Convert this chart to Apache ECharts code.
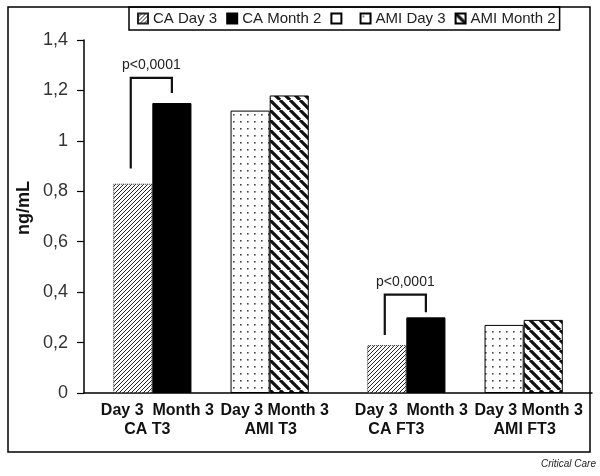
<!DOCTYPE html>
<html>
<head>
<meta charset="utf-8">
<script src="https://cdn.jsdelivr.net/npm/echarts@6/dist/echarts.min.js"></script>
<style>
html,body{margin:0;padding:0;background:#fff;}
#chart{width:600px;height:476px;}
</style>
</head>
<body>
<div id="chart"></div>
<script>
// ---- data ----
const categories = ['T3', 'FT3'];
const seriesNames = ['CA Day 3', 'CA Month 2', ' ', 'AMI Day 3', 'AMI Month 2'];
const caDay3 = [0.83, 0.19];
const caMonth2 = [1.15, 0.30];
const blankSeries = [null, null];
const amiDay3 = [1.12, 0.27];
const amiMonth2 = [1.18, 0.29];
const yMin = 0, yMax = 1.4, yStep = 0.2;
const yAxisName = 'ng/mL';
const groupNames = ['CA T3', 'AMI T3', 'CA FT3', 'AMI FT3'];
const timeLabels = ['Day 3  Month 3', 'Day 3 Month 3', 'Day 3  Month 3', 'Day 3 Month 3'];
// groups: [category index, first series index of pair]
const groups = [[0, 0], [0, 3], [1, 0], [1, 3]];
// significance brackets (CA pairs): text, top value, left end value, right end value
const pTexts = ['p<0,0001', 'p<0,0001'];
const bracketTop = [1.25, 0.39];
const bracketLeftEnd = [0.89, 0.23];
const bracketRightEnd = [1.19, 0.32];
const bracketCats = [0, 1];
const sourceText = 'Critical Care';

// ---- patterns ----
function hatch(size, dir, lw, color) {
  const c = document.createElement('canvas');
  c.width = c.height = size;
  const g = c.getContext('2d');
  g.fillStyle = '#fff'; g.fillRect(0, 0, size, size);
  g.strokeStyle = color; g.lineWidth = lw; g.beginPath();
  for (let k = -1; k <= 1; k++) {
    if (dir === '/') { g.moveTo(k * size, size); g.lineTo(k * size + size, 0); }
    else { g.moveTo(k * size, 0); g.lineTo(k * size + size, size); }
  }
  g.stroke();
  return c;
}
function dots(size, r, color) {
  const c = document.createElement('canvas');
  c.width = c.height = size;
  const g = c.getContext('2d');
  g.fillStyle = '#fff'; g.fillRect(0, 0, size, size);
  g.fillStyle = color; g.fillRect(2, 2, r, r);
  return c;
}
const patCA3 = { image: hatch(4, '/', 1, '#222'), repeat: 'repeat' };
const patAMIm = { image: hatch(10, '\\', 3.2, '#111'), repeat: 'repeat' };
const patAMI3 = { image: dots(7, 1.6, '#444'), repeat: 'repeat' };

const FONT = '"Liberation Sans", Arial, sans-serif';
const chart = echarts.init(document.getElementById('chart'), null, { renderer: 'canvas' });

const seriesData = [caDay3, caMonth2, blankSeries, amiDay3, amiMonth2];
const styles = [
  { color: patCA3, borderColor: '#222', borderWidth: 1, borderType: 'dotted' },
  { color: '#000', borderColor: '#000', borderWidth: 1 },
  { color: '#fff', borderColor: '#000', borderWidth: 1 },
  { color: patAMI3, borderColor: '#000', borderWidth: 1 },
  { color: patAMIm, borderColor: '#000', borderWidth: 1 }
];

const option = {
  animation: false,
  backgroundColor: '#fff',
  textStyle: { fontFamily: FONT },
  grid: { left: 84, right: 8, top: 40, bottom: 83, containLabel: false },
  legend: {
    left: 129, top: 7,
    icon: 'rect',
    itemWidth: 10, itemHeight: 10, itemGap: 9,
    padding: [4, 4, 4, 8],
    borderColor: '#000', borderWidth: 1.5,
    textStyle: { fontSize: 15, color: '#222', fontFamily: FONT },
    data: seriesNames
  },
  xAxis: {
    type: 'category', data: categories,
    axisLine: { lineStyle: { color: '#000', width: 1.5 } },
    axisTick: { show: false },
    axisLabel: { show: false }
  },
  yAxis: {
    type: 'value', min: yMin, max: yMax, interval: yStep,
    axisLine: { show: true, lineStyle: { color: '#000', width: 1.5 } },
    axisTick: { show: true, length: 7, lineStyle: { color: '#000', width: 1.2 } },
    splitLine: { show: false },
    axisLabel: {
      margin: 16, fontSize: 18, color: '#333', fontFamily: FONT,
      formatter: v => String(Math.round(v * 10) / 10).replace('.', ',')
    }
  },
  series: seriesNames.map((n, i) => ({
    name: n, type: 'bar', data: seriesData[i],
    barGap: '0%', barCategoryGap: '23%',
    itemStyle: styles[i]
  }))
};
chart.setOption(option);

// ---- annotations derived from layout ----
const model = chart.getModel();
function lay(s, c) { return model.getSeriesByIndex(s).getData().getItemLayout(c); }
function py(v) { return chart.convertToPixel({ yAxisIndex: 0 }, v); }
const baseY = py(0);
const gfx = [];
// frame
gfx.push({ type: 'rect', shape: { x: 8, y: 7, width: 582, height: 445 }, style: { fill: null, stroke: '#000', lineWidth: 1.5 }, z: 0, silent: true });
// y axis name
gfx.push({ type: 'text', x: 24, y: 208, rotation: Math.PI / 2,
  style: { text: yAxisName, font: 'bold 18px ' + FONT, fill: '#111', align: 'center', verticalAlign: 'middle' } });
const row2Shift = [-5, 1, -10, 1];
groups.forEach((gp, i) => {
  const L = lay(gp[1], gp[0]);
  const cx = L.x + L.width;
  gfx.push({ type: 'text', x: cx + 5, y: baseY + 18,
    style: { text: timeLabels[i], font: 'bold 16px ' + FONT, fill: '#111', align: 'center', verticalAlign: 'middle' } });
  gfx.push({ type: 'text', x: cx + row2Shift[i], y: baseY + 37,
    style: { text: groupNames[i], font: 'bold 16px ' + FONT, fill: '#111', align: 'center', verticalAlign: 'middle' } });
});
bracketCats.forEach((c, i) => {
  const a = lay(0, c), b = lay(1, c);
  const xl = a.x + a.width / 2 - 2, xr = b.x + b.width / 2;
  const yt = py(bracketTop[i]);
  gfx.push({ type: 'polyline', shape: { points: [[xl, py(bracketLeftEnd[i])], [xl, yt], [xr, yt], [xr, py(bracketRightEnd[i])]] },
    style: { stroke: '#111', lineWidth: 2.2, fill: null } });
  gfx.push({ type: 'text', x: (xl + xr) / 2, y: yt - 13,
    style: { text: pTexts[i], font: '14px ' + FONT, fill: '#222', align: 'center', verticalAlign: 'middle' } });
});
gfx.push({ type: 'text', x: 596, y: 464,
  style: { text: sourceText, font: 'italic 10px ' + FONT, fill: '#222', align: 'right', verticalAlign: 'middle' } });
chart.setOption({ graphic: gfx });
</script>
</body>
</html>
